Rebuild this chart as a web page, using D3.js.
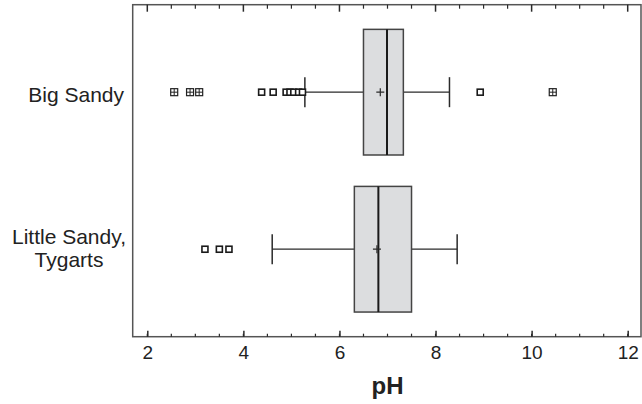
<!DOCTYPE html>
<html>
<head>
<meta charset="utf-8">
<script src="https://cdn.jsdelivr.net/npm/d3@7"></script>
<style>
body { margin: 0; background: #fff; }
svg { display: block; font-family: "Liberation Sans", Arial, sans-serif; }
</style>
</head>
<body>
<script>
// box plot data
var categories = ["Big Sandy", "Little Sandy,\nTygarts"];
var q1 = [6.50, 6.31];
var median = [6.99, 6.81];
var q3 = [7.33, 7.50];
var mean = [6.85, 6.78];
var whiskerLo = [5.28, 4.60];
var whiskerHi = [8.29, 8.45];
var outliers = [[4.38, 4.62, 4.89, 4.97, 5.05, 5.15, 5.23, 8.93], [3.20, 3.50, 3.70]];
var farOutliers = [[2.56, 2.89, 3.08, 10.44], []];
var majorTicks = [2, 4, 6, 8, 10, 12];
var minorTicks = d3.range(2, 12.01, 0.5);

var width = 642, height = 404;
var plotLeft = 132.7, plotRight = 641, plotTop = 4.7, plotBottom = 336.7;

var svg = d3.select("body").append("svg")
    .attr("width", width).attr("height", height);

var x = d3.scaleLinear().domain([2, 12]).range([147.3, 627.7]);
var y = d3.scalePoint().domain(categories).range([plotTop, plotBottom]).padding(0.557);
var boxH = 0.8 * y.step();
var capH = 30;

var ink = "#2a2a2a";

// frame
svg.append("rect")
    .attr("x", plotLeft).attr("y", plotTop)
    .attr("width", plotRight - plotLeft).attr("height", plotBottom - plotTop)
    .attr("fill", "none").attr("stroke", "#555").attr("stroke-width", 1.5);

// bottom axis, ticks inward
var xaxis = svg.append("g").attr("transform", "translate(0," + plotBottom + ")")
    .call(d3.axisBottom(x).tickValues(majorTicks).tickSize(-6).tickPadding(9).tickFormat(d3.format("d")));
xaxis.attr("font-size", null).attr("font-family", null);
xaxis.select(".domain").remove();
xaxis.selectAll("line").attr("stroke", ink).attr("stroke-width", 1.5);
xaxis.selectAll("text").attr("font-size", 19).attr("fill", "#222");

svg.append("g").selectAll("line").data(minorTicks).enter().append("line")
    .attr("x1", function(d) { return x(d); }).attr("x2", function(d) { return x(d); })
    .attr("y1", plotBottom).attr("y2", plotBottom - 3)
    .attr("stroke", ink).attr("stroke-width", 1.2);

// top ticks
svg.append("g").selectAll("line").data(minorTicks).enter().append("line")
    .attr("x1", function(d) { return x(d); }).attr("x2", function(d) { return x(d); })
    .attr("y1", plotTop)
    .attr("y2", function(d) { return plotTop + (d % 2 === 0 ? 7 : 4); })
    .attr("stroke", ink)
    .attr("stroke-width", function(d) { return d % 2 === 0 ? 1.5 : 1.2; });

// axis title
svg.append("text").attr("x", x(7)).attr("y", 394)
    .attr("text-anchor", "middle").attr("font-size", 24).attr("font-weight", "bold")
    .attr("fill", "#222").text("pH");

// category labels
categories.forEach(function(c, i) {
  var lines = c.split("\n");
  var t = svg.append("text").attr("font-size", 21).attr("fill", "#222");
  if (lines.length === 1) {
    t.attr("text-anchor", "end").attr("x", 124).attr("y", y(c) + 10).text(c);
  } else {
    lines.forEach(function(l, j) {
      t.append("tspan").attr("text-anchor", "middle").attr("x", 69)
        .attr("y", y(c) - 5 + j * 23).text(l);
    });
  }
});

// boxes
var g = svg.append("g").selectAll("g").data(categories).enter().append("g");

g.append("line")
    .attr("x1", function(d, i) { return x(whiskerLo[i]); })
    .attr("x2", function(d, i) { return x(q1[i]); })
    .attr("y1", function(d) { return y(d); }).attr("y2", function(d) { return y(d); })
    .attr("stroke", ink).attr("stroke-width", 1.2);
g.append("line")
    .attr("x1", function(d, i) { return x(q3[i]); })
    .attr("x2", function(d, i) { return x(whiskerHi[i]); })
    .attr("y1", function(d) { return y(d); }).attr("y2", function(d) { return y(d); })
    .attr("stroke", ink).attr("stroke-width", 1.2);
[whiskerLo, whiskerHi].forEach(function(arr) {
  g.append("line")
      .attr("x1", function(d, i) { return x(arr[i]); })
      .attr("x2", function(d, i) { return x(arr[i]); })
      .attr("y1", function(d) { return y(d) - capH / 2; })
      .attr("y2", function(d) { return y(d) + capH / 2; })
      .attr("stroke", ink).attr("stroke-width", 1.5);
});

g.append("rect")
    .attr("x", function(d, i) { return x(q1[i]); })
    .attr("width", function(d, i) { return x(q3[i]) - x(q1[i]); })
    .attr("y", function(d) { return y(d) - boxH / 2; })
    .attr("height", boxH)
    .attr("fill", "#dcdddf").attr("stroke", "#444").attr("stroke-width", 1.5);

g.append("line")
    .attr("x1", function(d, i) { return x(median[i]); })
    .attr("x2", function(d, i) { return x(median[i]); })
    .attr("y1", function(d) { return y(d) - boxH / 2; })
    .attr("y2", function(d) { return y(d) + boxH / 2; })
    .attr("stroke", "#1a1a1a").attr("stroke-width", 2);

// mean cross
g.append("path")
    .attr("d", function(d, i) {
      var cx = x(mean[i]), cy = y(d);
      return "M" + (cx - 4) + "," + cy + "H" + (cx + 4) + "M" + cx + "," + (cy - 4) + "V" + (cy + 4);
    })
    .attr("stroke", ink).attr("stroke-width", 1.2);

// outliers
categories.forEach(function(c, i) {
  svg.append("g").selectAll("rect").data(outliers[i]).enter().append("rect")
      .attr("x", function(d) { return x(d) - 3; })
      .attr("y", y(c) - 3)
      .attr("width", 6).attr("height", 6)
      .attr("fill", "#fff").attr("stroke", "#1a1a1a").attr("stroke-width", 1.6);
  var far = svg.append("g").selectAll("g").data(farOutliers[i]).enter().append("g");
  far.append("rect")
      .attr("x", function(d) { return x(d) - 3.5; })
      .attr("y", y(c) - 3.5)
      .attr("width", 7).attr("height", 7)
      .attr("fill", "#fff").attr("stroke", "#222").attr("stroke-width", 1.2);
  far.append("path")
      .attr("d", function(d) {
        var cx = x(d), cy = y(c);
        return "M" + (cx - 3.5) + "," + cy + "H" + (cx + 3.5) + "M" + cx + "," + (cy - 3.5) + "V" + (cy + 3.5);
      })
      .attr("stroke", "#222").attr("stroke-width", 1);
});
</script>
</body>
</html>
